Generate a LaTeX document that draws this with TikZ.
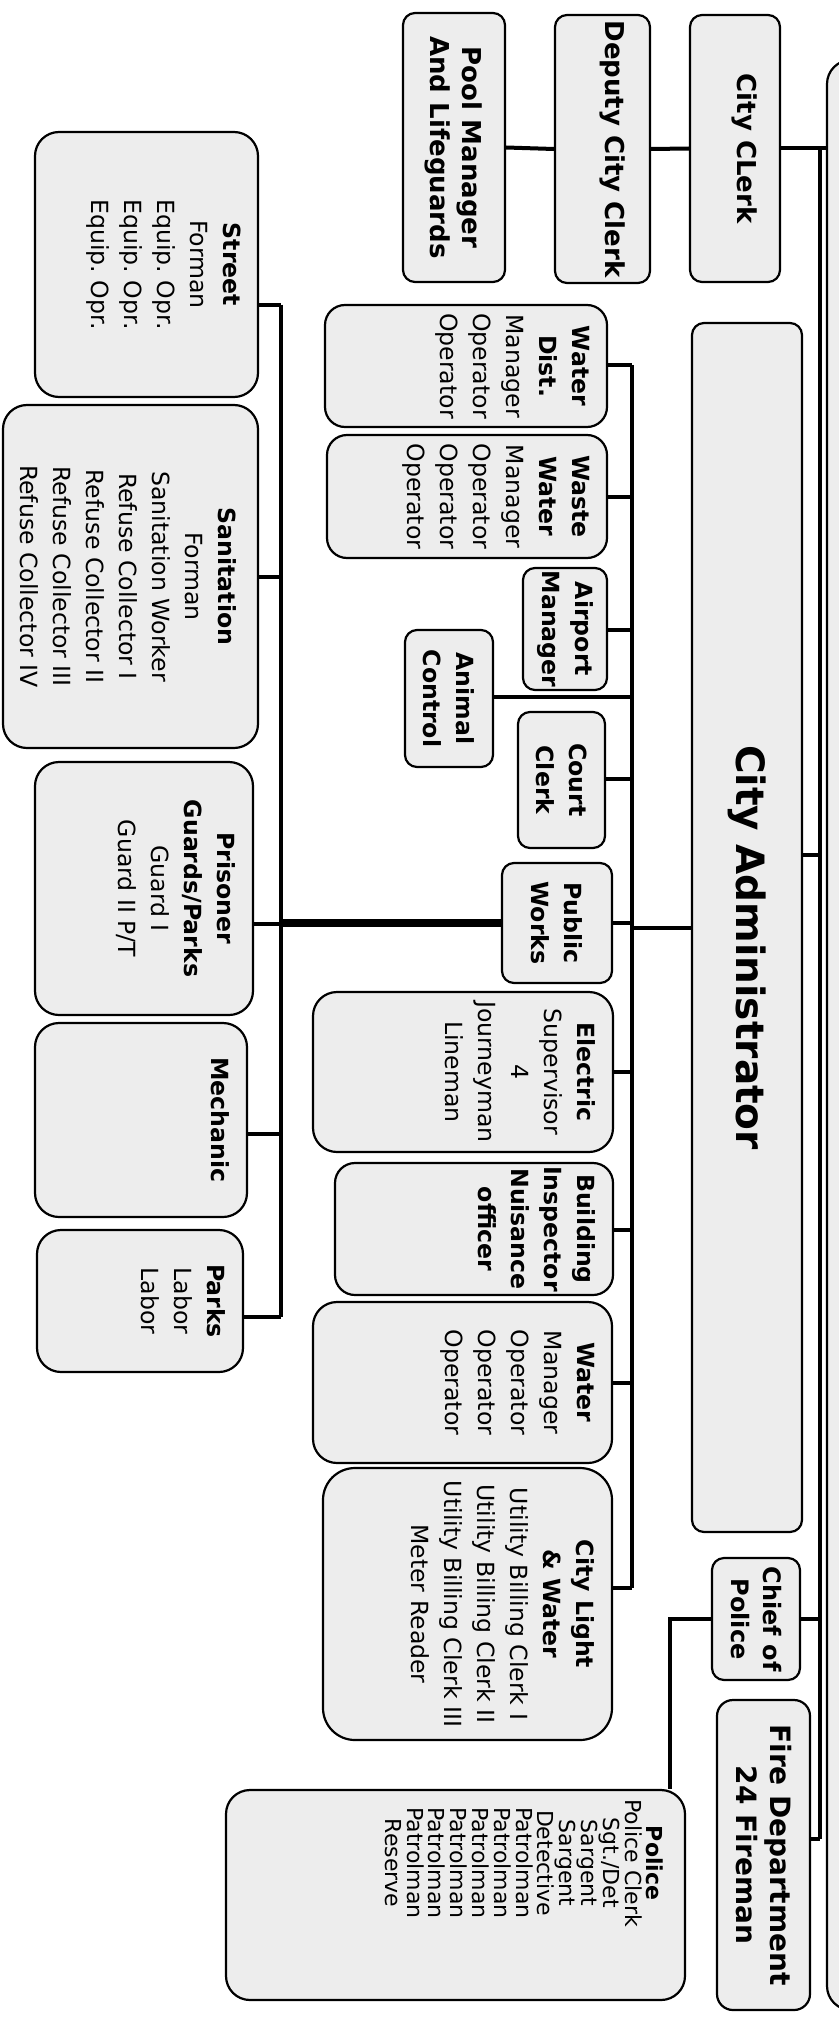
\documentclass[tikz,border=0pt]{standalone}
\usepackage{fontspec}
\setmainfont{DejaVu Sans}
\usetikzlibrary{fit,calc}
\begin{document}
\frenchspacing
\begin{tikzpicture}[x=0.5pt,y=-0.5pt,
  bx/.style={draw,line width=1.1pt,fill=black!7,rounded corners=6pt,inner sep=0pt},
  bxl/.style={bx,rounded corners=12pt},
  txt/.style={rotate=-90,align=center,inner sep=0pt,font=\fontsize{11.8}{16.5}\selectfont},
  btxt/.style={txt,font=\bfseries\fontsize{11.8}{16.5}\selectfont},
  toptxt/.style={rotate=-90,align=center,inner sep=0pt,font=\bfseries\fontsize{13}{16}\selectfont},
  poltxt/.style={rotate=-90,align=center,inner sep=0pt,font=\fontsize{11}{10.9}\selectfont},
  lnk/.style={line width=2pt},
  thk/.style={line width=4pt}]
\useasboundingbox (0,0) rectangle (839,2028);
\clip (0,0) rectangle (839,2028);
\newcommand\cpt[2]{\path ($(#1.north east)!#2!(#1.south east)$) coordinate (#1-c);}
% top row
\node[bx,fit={(403,13) (505,282)}] (pool) {};
\node[bx,fit={(555,15) (650,283)}] (deputy) {};
\node[bx,fit={(690,15) (780,282)}] (clerk) {};
\node[bxl,fit={(827,60) (900,2010)}] (mayor) {};
\node[toptxt] (pool-t) at (pool.center) {Pool Manager\\And Lifeguards};
\node[toptxt] (deputy-t) at ([xshift=5pt]deputy.center) {Deputy City Clerk};
\node[toptxt] (clerk-t) at ([xshift=5pt]clerk.center) {City CLerk};
% administrator
\node[bx,fit={(692,323) (802,1532)}] (admin) {};
\node[rotate=-90,inner sep=0pt,font=\bfseries\fontsize{19.5}{22}\selectfont] (admin-t) at ([yshift=-10pt]admin.center) {City Administrator};
% middle column
\node[bx,rounded corners=10pt,fit={(325,305) (607,427)}] (wdist) {};
\node[bx,rounded corners=10pt,fit={(327,435) (607,558)}] (wwater) {};
\node[bx,fit={(523,568) (607,690)}] (airport) {};
\node[bx,fit={(405,630) (493,767)}] (animal) {};
\node[bx,fit={(518,712) (605,848)}] (court) {};
\node[bx,fit={(502,863) (612,983)}] (pw) {};
\node[bxl,fit={(313,992) (613,1152)}] (elec) {};
\node[bx,rounded corners=10pt,fit={(335,1163) (613,1295)}] (build) {};
\node[bxl,fit={(313,1302) (612,1463)}] (water) {};
\node[bxl,rounded corners=16pt,fit={(323,1468) (612,1740)}] (clight) {};
\node[txt,anchor=north] (wdist-t) at ([xshift=-9pt]wdist.east) {\textbf{Water}\\\textbf{Dist.}\\Manager\\Operator\\Operator};
\node[txt,anchor=north] (wwater-t) at ([xshift=-9pt]wwater.east) {\textbf{Waste}\\\textbf{Water}\\Manager\\Operator\\Operator\\Operator};
\node[btxt] (airport-t) at (airport.center) {Airport\\Manager};
\node[btxt] (animal-t) at (animal.center) {Animal\\Control};
\node[btxt] (court-t) at (court.center) {Court\\Clerk};
\node[btxt] (pw-t) at (pw.center) {Public\\Works};
\node[txt,anchor=north] (elec-t) at ([xshift=-9pt]elec.east) {\textbf{Electric}\\Supervisor\\4\\Journeyman\\Lineman};
\node[btxt,anchor=north] (build-t) at ([xshift=-9pt]build.east) {Building\\Inspector\\Nuisance\\officer};
\node[txt,anchor=north] (water-t) at ([xshift=-9pt]water.east) {\textbf{Water}\\Manager\\Operator\\Operator\\Operator};
\node[txt,anchor=north] (clight-t) at ([xshift=-9pt]clight.east) {\textbf{City Light}\\\textbf{\& Water}\\Utility Billing Clerk I\\Utility Billing Clerk II\\Utility Billing Clerk III\\Meter Reader};
% right column
\node[bx,fit={(712,1558) (800,1680)}] (chief) {};
\node[bx,rounded corners=8pt,fit={(717,1700) (810,2010)}] (fire) {};
\node[bxl,fit={(226,1790) (685,2000)}] (police) {};
\node[txt,font=\bfseries\fontsize{12}{16}\selectfont] (chief-t) at (chief.center) {Chief of\\Police};
\node[toptxt,font=\bfseries\fontsize{14}{17}\selectfont] (fire-t) at (fire.center) {Fire Department\\24 Fireman};
\node[poltxt,anchor=north] (police-t) at ([xshift=-11pt,yshift=16pt]police.east) {\textbf{Police}\\Police Clerk\\Sgt./Det\\Sargent\\Sargent\\Detective\\Patrolman\\Patrolman\\Patrolman\\Patrolman\\Patrolman\\Patrolman\\Reserve};
% left column
\node[bxl,fit={(35,132) (258,397)}] (street) {};
\node[bxl,fit={(3,405) (258,748)}] (sanit) {};
\node[bxl,fit={(35,762) (253,1015)}] (prison) {};
\node[bxl,fit={(35,1023) (247,1217)}] (mech) {};
\node[bxl,fit={(37,1230) (243,1372)}] (parks) {};
\node[txt,anchor=north] (street-t) at ([xshift=-9pt]street.east) {\textbf{Street}\\Forman\\Equip. Opr.\\Equip. Opr.\\Equip. Opr.};
\node[txt,anchor=north] (sanit-t) at ([xshift=-11pt]sanit.east) {\textbf{Sanitation}\\Forman\\Sanitation Worker\\Refuse Collector I\\Refuse Collector II\\Refuse Collector III\\Refuse Collector IV};
\node[txt,anchor=north] (prison-t) at ([xshift=-9pt]prison.east) {\textbf{Prisoner}\\\textbf{Guards/Parks}\\Guard I\\Guard II P/T};
\node[btxt,anchor=north] (mech-t) at ([xshift=-9pt]mech.east) {Mechanic};
\node[txt,anchor=north] (parks-t) at ([xshift=-9pt]parks.east) {\textbf{Parks}\\Labor\\Labor};
% bus coordinates
\coordinate (busL) at (281,0);
\coordinate (busM) at (632,0);
\coordinate (busR) at (820,0);
\coordinate (drop) at (670,0);
% connection points
\cpt{street}{0.65}\cpt{sanit}{0.5}\cpt{prison}{0.64}\cpt{mech}{0.57}\cpt{parks}{0.61}
\cpt{wdist}{0.49}\cpt{wwater}{0.5}\cpt{airport}{0.51}\cpt{animal}{0.49}\cpt{court}{0.49}
\cpt{pw}{0.5}\cpt{elec}{0.5}\cpt{build}{0.51}\cpt{water}{0.5}\cpt{clight}{0.44}
\cpt{admin}{0.44}\cpt{chief}{0.5}\cpt{fire}{0.45}
% connectors
\draw[lnk] (pool.east) -- (deputy.west);
\draw[lnk] (deputy.east) -- (clerk.west);
\draw[lnk] (clerk.east) -- (clerk.east -| mayor.west);
\draw[lnk] (clerk.east -| busR) -- (fire-c -| busR);
\draw[lnk] (admin-c) -- (admin-c -| busR);
\draw[lnk] (chief-c) -- (chief-c -| busR);
\draw[lnk] (fire-c) -- (fire-c -| busR);
\draw[lnk] (chief.west) -| (police.north -| drop);
\draw[lnk] (admin.west) -- (admin.west -| busM);
\foreach \n in {wdist,wwater,airport,animal,court,pw,elec,build,water,clight}
  \draw[lnk] (\n-c) -- (\n-c -| busM);
\draw[lnk] (wdist-c -| busM) -- (clight-c -| busM);
\foreach \n in {street,sanit,prison,mech,parks}
  \draw[lnk] (\n-c) -- (\n-c -| busL);
\draw[lnk] (street-c -| busL) -- (parks-c -| busL);
\draw[thk] (pw.west) -- (pw.west -| busL);
\end{tikzpicture}
\end{document}
